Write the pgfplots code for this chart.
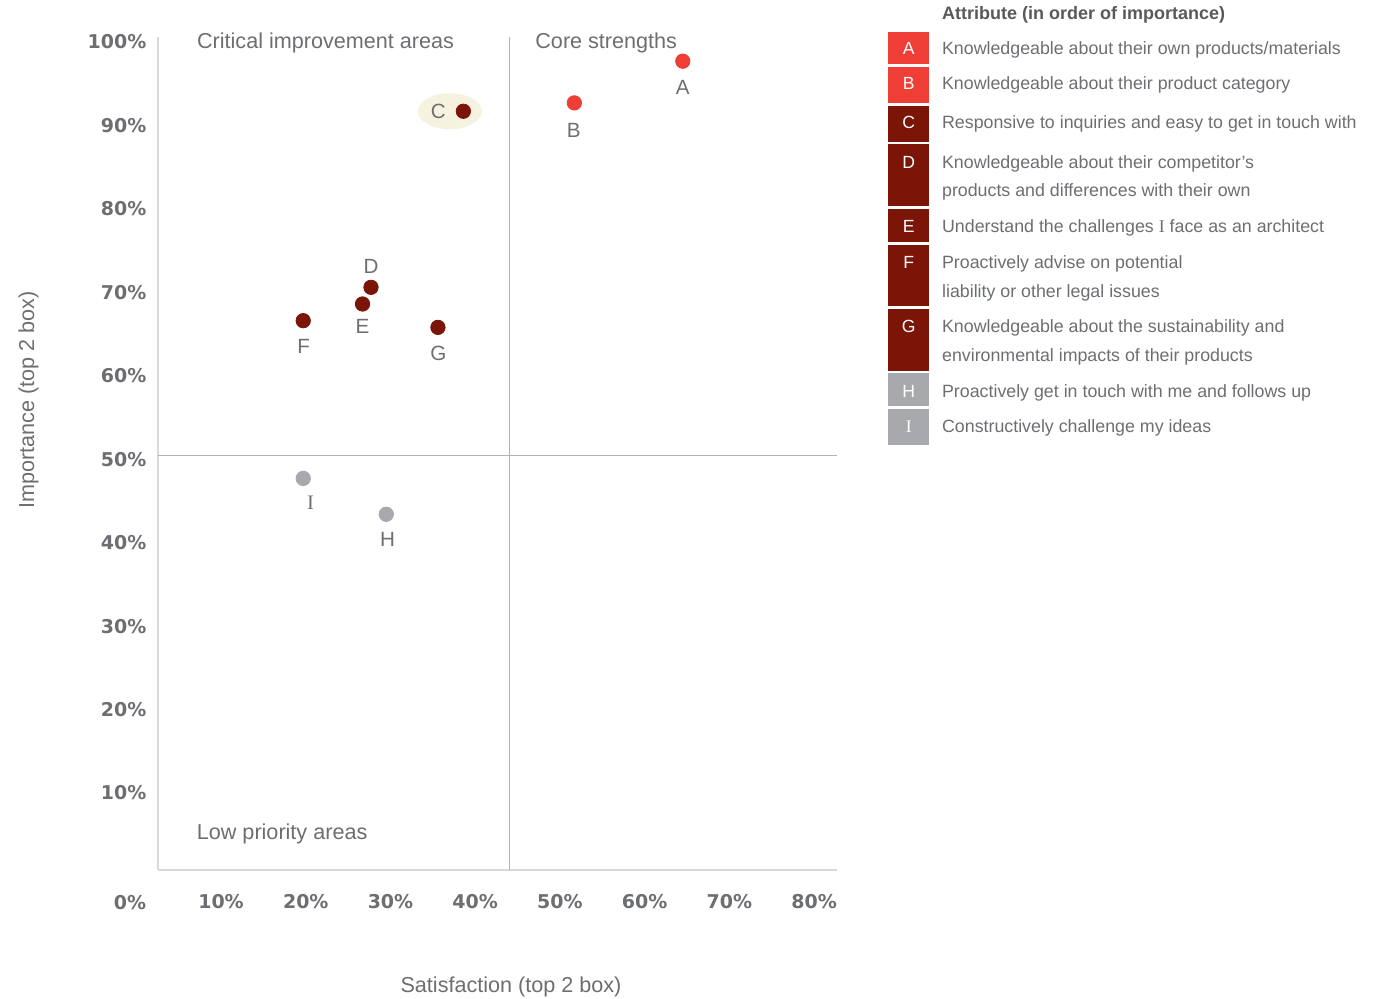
\documentclass[border=0pt]{standalone}
\usepackage{fontspec}
\setmainfont{Liberation Sans}
\newfontfamily\tickfont{DejaVu Sans}
\newfontfamily\serifI{Liberation Serif}
\usepackage{pgfplots}
\pgfplotsset{compat=1.18}
\usepackage{pgfplotstable}

\definecolor{txtgrey}{HTML}{6D6E71}
\definecolor{titlegrey}{HTML}{58595B}
\definecolor{ptred}{HTML}{EF3E36}
\definecolor{ptdark}{HTML}{7A1508}
\definecolor{ptgrey}{HTML}{A7A9AC}
\definecolor{hlfill}{HTML}{F5F3E0}
\definecolor{axisline}{HTML}{D9D9D9}
\definecolor{divline}{HTML}{B3B3B3}

\newcommand\tickfnt{\tickfont\bfseries\fontsize{9.5}{11}\selectfont}
\newcommand\labfnt{\fontsize{10.8}{13}\selectfont}
\newcommand\ptfnt{\fontsize{10.3}{12}\selectfont}
\newcommand\legfnt{\fontsize{8.9}{11}\selectfont}
\newcommand\boxfnt{\fontsize{8.8}{10}\selectfont}
\newcommand\Ilab{{\serifI I}}

% satisfaction (x) and importance (y), both in percent; dx/dy place the letter
\pgfplotstableread{
x    y    lab  dx    dy
64.5 97.7 A    0     -13
51.7 92.7 B    -0.3  -13.7
}\corestr
\pgfplotstableread{
x    y    lab  dx    dy
38.6 91.7 C    -12.5 0
27.7 70.6 D    0     10.5
26.7 68.6 E    0     -11.4
19.7 66.6 F    0.2   -12.9
35.6 65.8 G    0.2   -12.8
}\critical
\pgfplotstableread{
x    y    lab     dx   dy
29.5 43.4 H       0.6  -12.5
19.7 47.7 {\Ilab} 3.7  -12.4
}\lowprio

\pgfplotsset{
  lettered/.style={
    only marks, mark=*, mark size=3.6pt,
    point meta=explicit symbolic,
    nodes near coords,
    visualization depends on={\thisrow{dx} \as \dx},
    visualization depends on={\thisrow{dy} \as \dy},
    every node near coord/.append style={anchor=center, inner sep=0pt,
      xshift=\dx pt, yshift=\dy pt, text=txtgrey, font=\ptfnt},
  },
}

\begin{document}
\begin{tikzpicture}
\useasboundingbox (0,0) rectangle (688.5pt,499pt);

\begin{axis}[
  at={(79pt,64pt)}, anchor=south west,
  scale only axis, width=339.5pt, height=416.5pt,
  xmin=2.56, xmax=82.7, ymin=0.77, ymax=100.6,
  axis x line*=bottom, axis y line*=left,
  axis line style={draw=axisline, line width=0.75pt, -},
  xtick={10,20,30,40,50,60,70,80},
  xticklabels={10\%,20\%,30\%,40\%,50\%,60\%,70\%,80\%},
  ytick={10,20,30,40,50,60,70,80,90,100},
  yticklabels={10\%,20\%,30\%,40\%,50\%,60\%,70\%,80\%,90\%,100\%},
  tick style={draw=none}, major tick length=0pt,
  xticklabel style={anchor=center, yshift=-16pt, font=\tickfnt, text=txtgrey},
  yticklabel style={anchor=east, inner sep=0pt, xshift=-5.6pt, font=\tickfnt, text=txtgrey},
  clip=false,
]
  % quadrant dividers
  \draw[divline, line width=0.6pt] (axis cs:44,0.77) -- (axis cs:44,100.6);
  \draw[divline, line width=0.6pt] (axis cs:2.56,50.4) -- (axis cs:82.7,50.4);
  % highlight behind C
  \fill[hlfill] (axis cs:37.0,91.7) ellipse [x radius=16pt, y radius=9pt];

  \addplot[lettered, color=ptred] table[x=x, y=y, meta=lab] {\corestr};
  \addplot[lettered, color=ptdark] table[x=x, y=y, meta=lab] {\critical};
  \addplot[lettered, color=ptgrey] table[x=x, y=y, meta=lab] {\lowprio};
\end{axis}

% labels and legend, positioned on a pixel grid (origin top left)
\begin{scope}[shift={(0,499pt)}, x=0.5pt, y=-0.5pt]
  \node[anchor=center, font=\tickfnt, text=txtgrey] at (130,902.7) {0\%};

  \node[anchor=base west, inner sep=0pt, font=\labfnt, text=txtgrey] at (196.7,49) {Critical improvement areas};
  \node[anchor=base west, inner sep=0pt, font=\labfnt, text=txtgrey] at (535,48.3) {Core strengths};
  \node[anchor=base west, inner sep=0pt, font=\labfnt, text=txtgrey] at (196.5,839) {Low priority areas};

  \node[anchor=base, inner sep=0pt, font=\labfnt, text=txtgrey] at (511,992.7) {Satisfaction (top 2 box)};
  \node[anchor=base, inner sep=0pt, font=\labfnt, text=txtgrey, rotate=90] at (34,400) {Importance (top 2 box)};

  \node[anchor=base west, inner sep=0pt, font=\bfseries\fontsize{9}{11}\selectfont, text=titlegrey] at (941.7,19.3) {Attribute (in order of importance)};

  % legend swatches
  \fill[ptred]  (888.3,31.7)  rectangle (929,64);
  \fill[ptred]  (888.3,66.7)  rectangle (929,102.7);
  \fill[ptdark] (888.3,106)   rectangle (929,141.7);
  \fill[ptdark] (888.3,144.3) rectangle (929,206);
  \fill[ptdark] (888.3,209)   rectangle (929,242.3);
  \fill[ptdark] (888.3,245)   rectangle (929,306);
  \fill[ptdark] (888.3,309.3) rectangle (929,370.7);
  \fill[ptgrey] (888.3,373.3) rectangle (929,405.7);
  \fill[ptgrey] (888.3,409)   rectangle (929,445);

  \foreach \l/\yb in {A/55, B/90, C/129, D/168.3, E/232.7, F/268.3, G/332.3, H/397.3, \Ilab/432.3}
    \node[anchor=base, inner sep=0pt, font=\boxfnt, text=white] at (908.7,\yb) {\l};

  \begin{scope}[every node/.style={anchor=base west, inner sep=0pt, font=\legfnt, text=txtgrey}]
    \node at (941.7,55)    {Knowledgeable about their own products/materials};
    \node at (941.7,90)    {Knowledgeable about their product category};
    \node at (941.7,129)   {Responsive to inquiries and easy to get in touch with};
    \node at (941.7,168.3) {Knowledgeable about their competitor’s};
    \node at (941.7,196.7) {products and differences with their own};
    \node at (941.7,232.7) {Understand the challenges \Ilab\ face as an architect};
    \node at (941.7,268.3) {Proactively advise on potential};
    \node at (941.7,297.3) {liability or other legal issues};
    \node at (941.7,332.3) {Knowledgeable about the sustainability and};
    \node at (941.7,361.3) {environmental impacts of their products};
    \node at (941.7,397.3) {Proactively get in touch with me and follows up};
    \node at (941.7,432.3) {Constructively challenge my ideas};
  \end{scope}
\end{scope}
\end{tikzpicture}
\end{document}
